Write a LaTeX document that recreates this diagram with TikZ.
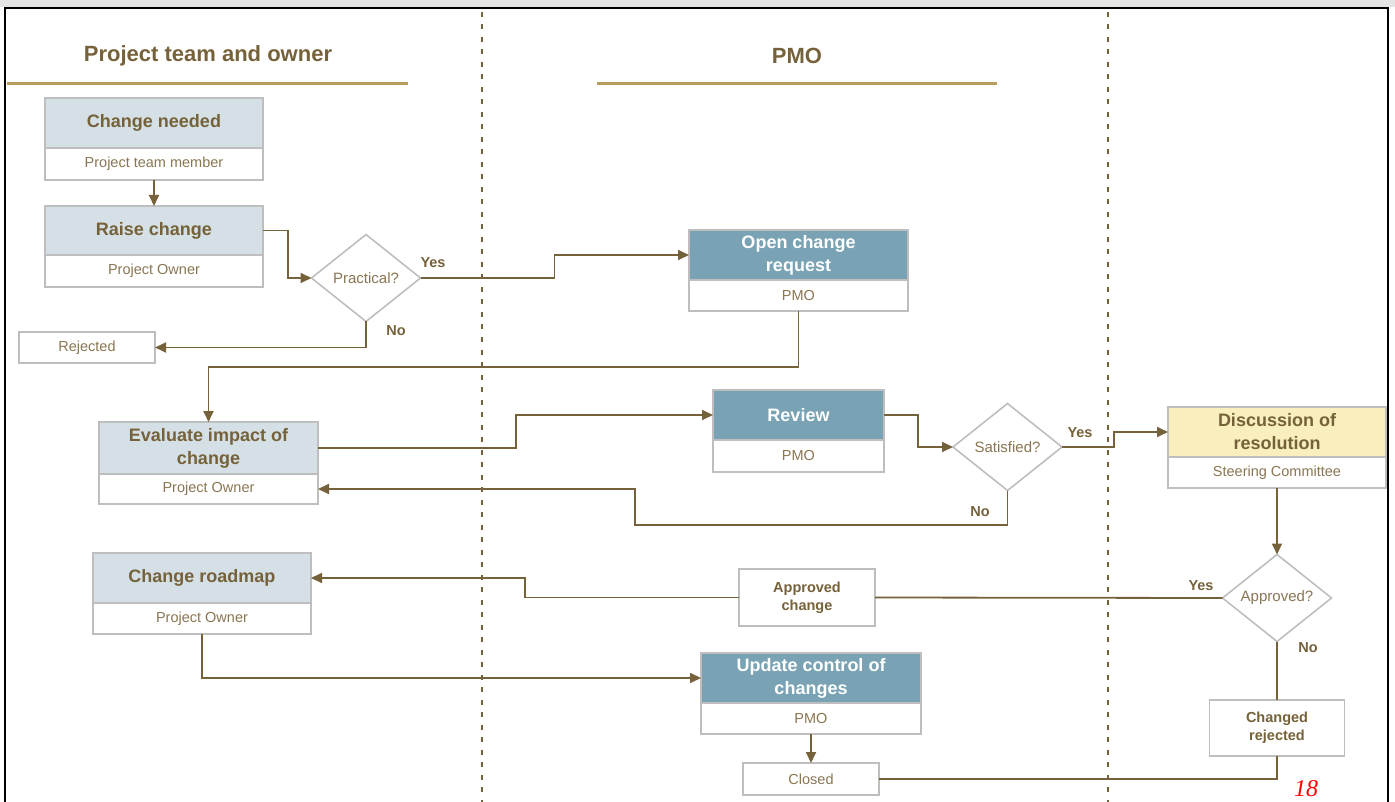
\documentclass[tikz,border=0pt]{standalone}
\usepackage{fontspec}
\setmainfont{Liberation Sans}
\newfontfamily\serifit{Liberation Serif}
\usetikzlibrary{shapes.geometric,arrows.meta}
\definecolor{brn}{HTML}{76623A}
\definecolor{subtxt}{HTML}{8A7652}
\definecolor{gold}{HTML}{B89B5E}
\definecolor{bord}{HTML}{BEBEBE}
\definecolor{lblue}{HTML}{D4E0E5}
\definecolor{sblue}{HTML}{79A3B4}
\definecolor{lyel}{HTML}{F8EEBE}
\tikzset{
  topbox/.style={draw=bord, line width=1.6pt, fill=lblue, text=brn, font=\fontsize{18}{23}\selectfont\bfseries, align=center, inner sep=0pt, outer sep=0pt},
  bluebox/.style={topbox, fill=sblue, text=white},
  yelbox/.style={topbox, fill=lyel},
  subbox/.style={draw=bord, line width=1.6pt, fill=white, text=subtxt, font=\fontsize{14.5}{16}\selectfont, align=center, inner sep=0pt, outer sep=0pt},
  endbox/.style={subbox, text=brn, font=\fontsize{14.5}{18}\selectfont\bfseries},
  plainend/.style={subbox},
  decision/.style={diamond, draw=bord, line width=1.6pt, fill=white, text=subtxt, font=\fontsize{15}{16}\selectfont, inner sep=0pt, outer sep=0pt, minimum width=109pt, minimum height=87pt},
  conn/.style={draw=brn, line width=1.8pt},
  arr/.style={conn, -{Triangle[length=11pt,width=10pt]}},
  yn/.style={text=brn, font=\fontsize{14.5}{16}\selectfont\bfseries},
  header/.style={text=brn, font=\fontsize{22}{24}\selectfont\bfseries},
  lane/.style={draw=brn, line width=1.5pt, dash pattern=on 5pt off 7.5pt},
  bar/.style={draw=gold, line width=3pt}
}
\begin{document}
\begin{tikzpicture}[x=1pt,y=-1pt]
\useasboundingbox (0,0) rectangle (1395,802);
\fill[black!10] (0,0) rectangle (1395,7);
\draw[black, line width=2pt] (5,802) -- (5,8) -- (1388,8) -- (1388,802);

% headers
\node[header] (h1) at (208,56) {Project team and owner};
\node[header] (h2) at (797,56) {PMO};
\draw[bar] (7,84) -- (408,84);
\draw[bar] (597,84) -- (997,84);

% swimlane separators
\draw[lane] (482,12) -- (482,802);
\draw[lane] (1108,12) -- (1108,802);

% boxes
\node[topbox, minimum width=218pt, minimum height=50pt] (cn) at (154,123) {Change needed};
\node[subbox, minimum width=218pt, minimum height=32pt, anchor=north] (cnp) at (cn.south) {Project team member};

\node[topbox, minimum width=218pt, minimum height=49pt] (rc) at (154,230.5) {Raise change};
\node[subbox, minimum width=218pt, minimum height=32pt, anchor=north] (rcp) at (rc.south) {Project Owner};

\node[decision] (prac) at (366,278) {Practical?};

\node[plainend, minimum width=136pt, minimum height=31pt] (rej) at (87,347.5) {Rejected};

\node[bluebox, minimum width=219pt, minimum height=50pt] (ocr) at (798.5,255) {Open change\\request};
\node[subbox, minimum width=219pt, minimum height=31pt, anchor=north] (ocrp) at (ocr.south) {PMO};

\node[topbox, minimum width=219pt, minimum height=52pt] (ev) at (208.5,448) {Evaluate impact of\\change};
\node[subbox, minimum width=219pt, minimum height=30pt, anchor=north] (evp) at (ev.south) {Project Owner};

\node[bluebox, minimum width=171pt, minimum height=50pt] (rev) at (798.5,415) {Review};
\node[subbox, minimum width=171pt, minimum height=32pt, anchor=north] (revp) at (rev.south) {PMO};

\node[decision] (sat) at (1007.5,447) {Satisfied?};

\node[yelbox, minimum width=218pt, minimum height=50pt] (dis) at (1277,432) {Discussion of\\resolution};
\node[subbox, minimum width=218pt, minimum height=31pt, anchor=north] (disp) at (dis.south) {Steering Committee};

\node[decision] (appr) at (1277,598) {Approved?};

\node[endbox, minimum width=136pt, minimum height=57pt] (apc) at (807,597.5) {Approved\\change};

\node[topbox, minimum width=218pt, minimum height=50pt] (crm) at (202,578) {Change roadmap};
\node[subbox, minimum width=218pt, minimum height=31pt, anchor=north] (crmp) at (crm.south) {Project Owner};

\node[bluebox, minimum width=220pt, minimum height=50pt] (upd) at (811,678) {Update control of\\changes};
\node[subbox, minimum width=220pt, minimum height=31pt, anchor=north] (updp) at (upd.south) {PMO};

\node[plainend, minimum width=136pt, minimum height=32pt] (clo) at (811,779) {Closed};

\node[endbox, minimum width=135pt, minimum height=56pt] (chr) at (1277,728) {Changed\\rejected};

% connectors
\draw[arr] (cnp.south) -- (rc.north);
\draw[arr] (rc.east) -- ++(25,0) |- (prac.west);
\draw[arr] (prac.east) -- ++(134,0) |- (ocr.west);
\draw[arr] (prac.south) |- (rej.east);
\draw[arr] (ocrp.south) -- ++(0,56) -| (ev.north);
\draw[arr] (ev.east) -- ++(198,0) |- (rev.west);
\draw[arr] (rev.east) -- ++(34,0) |- (sat.west);
\draw[arr] (sat.east) -- ++(52,0) |- (dis.west);
\draw[arr] (sat.south) |- (635,525) |- (evp.east);
\draw[arr] (disp.south) -- (appr.north);
\draw[conn] (appr.west) -- (apc.east);
\draw[arr] (apc.west) -- ++(-214,0) |- (crm.east);
\draw[conn] (appr.south) -- (chr.north);
\draw[conn] (chr.south) |- (clo.east);
\draw[arr] (crmp.south) |- (upd.west);
\draw[arr] (updp.south) -- (clo.north);

% labels
\node[yn] (y1) at (433,263) {Yes};
\node[yn] (n1) at (396,331) {No};
\node[yn] (y2) at (1080,433) {Yes};
\node[yn] (n2) at (980,512) {No};
\node[yn] (y3) at (1201,586) {Yes};
\node[yn] (n3) at (1308,648) {No};

\node[text=red, font=\serifit\itshape\fontsize{24}{25}\selectfont] (pg) at (1306,789) {18};
\end{tikzpicture}
\end{document}
